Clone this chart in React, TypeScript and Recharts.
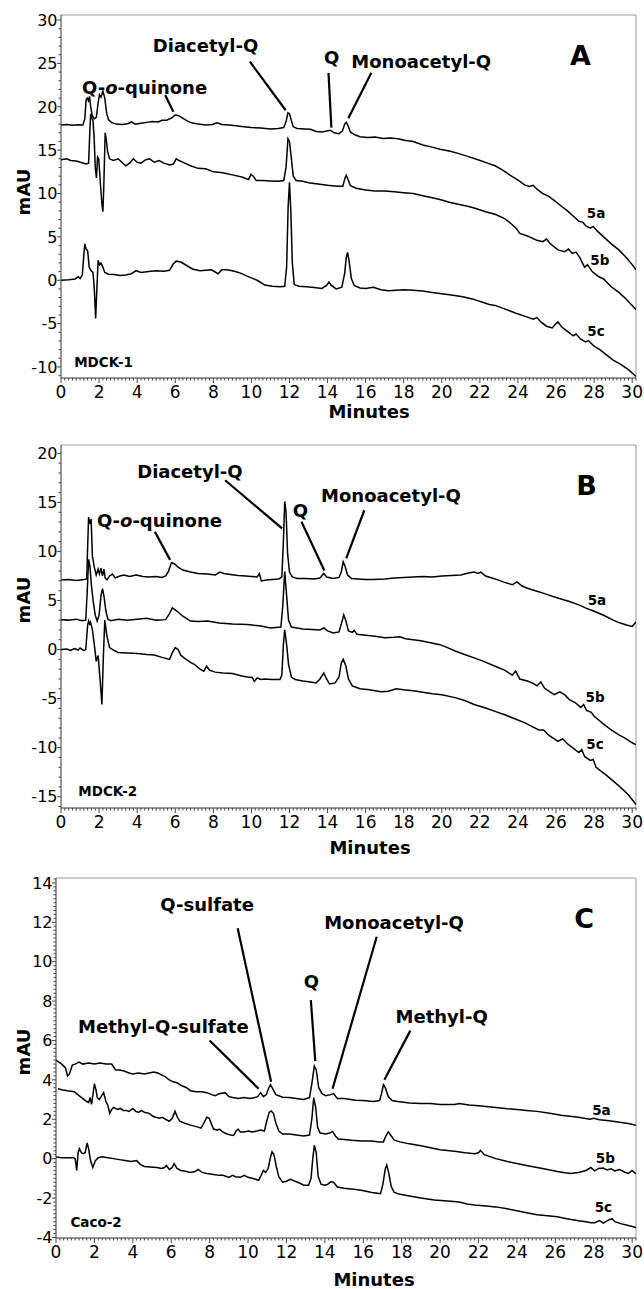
import React from 'react';
import { LineChart, Line, XAxis, YAxis, ReferenceLine, ReferenceDot } from 'recharts';

type Pt = [number, number];

// ---------------- axis ticks ----------------
const xMajorTicks = [0, 2, 4, 6, 8, 10, 12, 14, 16, 18, 20, 22, 24, 26, 28, 30];
const yMajorA = [-10, -5, 0, 5, 10, 15, 20, 25, 30];
const yMajorB = [-15, -10, -5, 0, 5, 10, 15, 20];
const yMajorC = [-4, -2, 0, 2, 4, 6, 8, 10, 12, 14];

// ---------------- Panel A (MDCK-1) ----------------
const a5a: Pt[] = [[0,17.9],[0.3,17.95],[0.6,17.88],[0.9,17.92],[1.15,17.9],[1.25,18.6],[1.32,20.8],[1.38,21.0],[1.44,20.7],[1.5,21.2],[1.56,20.0],[1.64,19.0],[1.75,18.6],[1.86,18.8],[1.94,20.3],[2.02,21.4],[2.1,21.1],[2.2,21.8],[2.3,21.0],[2.4,19.2],[2.5,18.5],[2.65,18.2],[2.9,18.0],[3.2,17.95],[3.5,18.05],[3.7,18.25],[3.9,18.0],[4.2,18.1],[4.5,18.2],[4.8,18.3],[5.1,18.25],[5.3,18.45],[5.55,18.45],[5.8,18.7],[6.0,19.05],[6.15,19.0],[6.35,18.75],[6.6,18.4],[6.85,18.15],[7.2,18.0],[7.6,17.9],[7.95,17.95],[8.2,18.15],[8.45,17.95],[8.8,17.9],[9.2,17.8],[9.6,17.7],[10.0,17.6],[10.5,17.55],[11.0,17.45],[11.4,17.5],[11.7,17.6],[11.82,18.3],[11.92,19.3],[12.0,19.2],[12.1,18.4],[12.2,17.7],[12.4,17.5],[12.8,17.45],[13.1,17.4],[13.4,17.15],[13.7,17.1],[13.95,17.2],[14.15,17.3],[14.35,17.0],[14.6,16.9],[14.78,17.2],[14.9,18.0],[14.98,18.2],[15.08,17.8],[15.2,17.1],[15.4,16.8],[15.7,16.55],[16.1,16.45],[16.5,16.5],[16.9,16.35],[17.3,16.4],[17.7,16.3],[18.1,16.1],[18.5,16.0],[19.0,15.6],[19.5,15.35],[19.9,15.1],[20.4,14.9],[20.9,14.6],[21.4,14.25],[21.9,13.9],[22.4,13.5],[22.8,13.2],[23.2,12.7],[23.6,12.1],[23.9,11.7],[24.1,11.4],[24.35,11.0],[24.6,10.8],[24.8,10.95],[25.0,10.5],[25.3,10.0],[25.6,9.7],[25.9,9.2],[26.3,8.5],[26.6,8.0],[26.9,7.4],[27.2,6.8],[27.4,6.7],[27.55,6.3],[27.8,6.0],[27.95,6.2],[28.2,5.6],[28.5,5.0],[28.9,4.2],[29.3,3.5],[29.7,2.6],[30.0,1.8],[30.2,1.2]];
const a5b: Pt[] = [[0,13.9],[0.3,14.0],[0.5,13.8],[0.8,13.75],[1.1,13.55],[1.3,13.4],[1.45,13.5],[1.52,17.5],[1.56,19.2],[1.62,18.7],[1.68,18.4],[1.74,16.5],[1.8,13.0],[1.86,11.8],[1.92,14.2],[1.98,14.0],[2.06,11.5],[2.14,9.0],[2.2,7.9],[2.25,11.0],[2.32,17.0],[2.38,16.2],[2.45,14.8],[2.55,14.0],[2.75,13.8],[3.0,14.0],[3.2,13.6],[3.4,13.2],[3.6,13.5],[3.8,14.0],[4.0,13.6],[4.2,13.5],[4.45,13.9],[4.65,14.0],[4.9,13.6],[5.15,13.8],[5.4,13.5],[5.7,13.3],[5.9,13.4],[6.05,14.0],[6.2,13.8],[6.5,13.5],[6.8,13.2],[7.2,12.9],[7.6,12.85],[8.0,12.5],[8.5,12.4],[9.0,12.15],[9.5,11.9],[9.85,11.6],[9.98,12.2],[10.1,12.0],[10.25,11.5],[10.6,11.5],[11.0,11.45],[11.4,11.4],[11.7,11.5],[11.82,13.0],[11.92,16.3],[12.0,16.0],[12.1,14.0],[12.2,12.0],[12.35,11.5],[12.7,11.4],[13.0,11.25],[13.5,11.1],[14.0,10.95],[14.5,10.85],[14.8,10.85],[14.92,11.8],[14.98,12.1],[15.08,11.6],[15.2,10.9],[15.5,10.6],[16.0,10.4],[16.5,10.3],[17.0,10.3],[17.5,10.2],[18.0,10.1],[18.5,10.0],[19.0,9.75],[19.5,9.5],[19.9,9.3],[20.4,9.0],[20.8,8.8],[21.3,8.55],[21.75,8.3],[22.3,7.9],[22.8,7.6],[23.3,7.1],[23.6,6.6],[23.9,6.0],[24.1,5.4],[24.5,5.1],[25.0,4.6],[25.3,4.45],[25.5,4.75],[25.7,4.2],[26.1,3.5],[26.45,3.3],[26.65,3.6],[26.85,3.1],[27.05,3.25],[27.25,2.6],[27.5,1.5],[27.65,1.8],[27.9,1.0],[28.25,0.4],[28.5,0.15],[28.9,-0.75],[29.3,-1.4],[29.6,-2.0],[30.0,-2.9],[30.2,-3.4]];
const a5c: Pt[] = [[0,0],[0.4,0.05],[0.75,0.15],[0.9,0.4],[1.0,0.2],[1.12,0.6],[1.2,3.0],[1.25,4.2],[1.32,3.6],[1.4,3.4],[1.48,1.5],[1.58,1.1],[1.68,0.9],[1.75,-1.0],[1.82,-4.4],[1.88,-1.2],[1.95,2.3],[2.02,1.8],[2.1,2.0],[2.18,1.6],[2.3,0.9],[2.5,0.7],[2.8,0.65],[3.1,0.55],[3.4,0.6],[3.7,0.75],[3.95,1.1],[4.2,0.9],[4.6,1.0],[5.0,1.1],[5.4,1.05],[5.7,1.15],[5.9,1.9],[6.05,2.2],[6.3,2.1],[6.6,1.7],[6.9,1.3],[7.3,1.1],[7.6,1.15],[7.9,1.2],[8.1,0.95],[8.25,0.75],[8.45,1.2],[8.7,1.2],[9.0,1.1],[9.4,0.85],[9.8,0.45],[10.3,0.0],[10.7,-0.55],[11.1,-0.7],[11.5,-0.75],[11.75,-0.7],[11.85,1.5],[11.93,8.5],[12.0,11.3],[12.07,8.0],[12.15,2.0],[12.25,-0.5],[12.5,-0.7],[12.9,-0.75],[13.3,-0.85],[13.7,-0.95],[13.95,-0.6],[14.07,-0.2],[14.2,-0.6],[14.45,-1.0],[14.75,-0.8],[14.9,0.8],[14.98,2.6],[15.05,3.2],[15.12,2.4],[15.25,0.2],[15.4,-0.6],[15.7,-0.9],[16.0,-0.95],[16.4,-0.8],[16.8,-1.1],[17.2,-1.2],[17.6,-1.15],[18.0,-1.1],[18.5,-1.15],[19.0,-1.25],[19.5,-1.4],[19.8,-1.5],[20.5,-1.7],[21.1,-1.9],[21.6,-2.15],[22.1,-2.5],[22.5,-2.8],[22.8,-2.9],[23.3,-3.3],[23.9,-3.8],[24.5,-4.25],[24.8,-4.5],[25.0,-4.3],[25.2,-4.8],[25.5,-5.3],[25.8,-5.5],[26.0,-5.0],[26.1,-4.8],[26.3,-5.4],[26.6,-5.9],[26.9,-6.4],[27.05,-6.2],[27.3,-6.8],[27.55,-7.1],[27.7,-6.95],[28.0,-7.6],[28.3,-8.0],[28.7,-8.7],[29.0,-9.2],[29.4,-9.7],[29.8,-10.3],[30.2,-11.1]];

// ---------------- Panel B (MDCK-2) ----------------
const b5a: Pt[] = [[0,7.1],[0.4,7.15],[0.8,7.05],[1.2,7.15],[1.35,7.2],[1.4,10.5],[1.45,13.5],[1.52,12.8],[1.58,13.3],[1.65,9.5],[1.75,8.4],[1.85,7.6],[1.95,8.2],[2.02,7.7],[2.1,8.3],[2.18,7.5],[2.25,8.2],[2.32,7.3],[2.42,7.1],[2.55,7.5],[2.7,7.7],[2.85,7.3],[3.1,7.5],[3.3,7.6],[3.6,7.45],[3.95,7.6],[4.3,7.45],[4.6,7.4],[5.0,7.45],[5.3,7.35],[5.5,7.5],[5.65,8.0],[5.8,8.85],[5.95,8.75],[6.15,8.4],[6.4,8.1],[6.8,7.9],[7.2,7.75],[7.7,7.7],[8.1,7.6],[8.35,7.9],[8.55,7.75],[8.9,7.65],[9.3,7.55],[9.7,7.5],[10.0,7.45],[10.3,7.4],[10.42,7.75],[10.52,7.0],[10.8,7.1],[11.1,7.15],[11.45,7.2],[11.6,7.4],[11.68,11.0],[11.75,15.1],[11.82,14.0],[11.9,9.8],[12.0,7.9],[12.15,7.4],[12.4,7.25],[12.8,7.25],[13.3,7.2],[13.6,7.3],[13.8,7.75],[13.95,7.4],[14.3,7.25],[14.6,7.35],[14.72,7.9],[14.82,8.95],[14.92,8.5],[15.05,7.6],[15.25,7.25],[15.6,7.2],[16.0,7.15],[16.4,7.15],[17.0,7.2],[17.5,7.3],[18.0,7.35],[18.5,7.4],[19.0,7.45],[19.5,7.4],[20.0,7.5],[20.5,7.55],[21.0,7.6],[21.4,7.8],[21.7,7.9],[21.9,7.75],[22.05,7.9],[22.3,7.5],[22.8,7.2],[23.3,6.85],[23.7,6.6],[23.95,6.9],[24.2,6.5],[24.5,6.25],[25.0,5.95],[25.4,5.7],[26.0,5.3],[26.7,4.9],[27.2,4.55],[27.6,4.2],[28.0,3.9],[28.5,3.5],[29.0,3.0],[29.3,2.75],[29.7,2.5],[30.0,2.35],[30.2,2.8]];
const b5b: Pt[] = [[0,3.05],[0.4,3.0],[0.8,3.1],[1.1,2.95],[1.3,3.0],[1.38,6.0],[1.45,9.2],[1.52,8.5],[1.6,6.5],[1.7,4.8],[1.8,3.5],[1.9,2.9],[2.0,3.5],[2.1,5.5],[2.18,6.2],[2.26,5.4],[2.36,3.9],[2.46,3.1],[2.6,2.95],[3.0,3.1],[3.5,3.0],[4.0,3.1],[4.5,3.2],[5.0,3.0],[5.5,3.05],[5.68,3.6],[5.85,4.25],[6.1,3.9],[6.4,3.4],[6.8,2.9],[7.2,2.85],[7.7,2.9],[8.3,2.7],[9.0,2.6],[9.8,2.55],[10.5,2.4],[11.0,2.2],[11.55,2.3],[11.65,4.5],[11.75,7.95],[11.85,5.5],[11.95,3.0],[12.1,2.3],[12.7,2.1],[13.2,2.05],[13.6,2.0],[13.8,2.2],[14.0,1.9],[14.3,1.7],[14.6,1.8],[14.75,2.8],[14.85,3.55],[14.95,3.0],[15.1,1.9],[15.3,1.75],[15.4,1.95],[15.55,1.55],[16.0,1.45],[16.5,1.35],[17.0,1.2],[17.5,1.25],[17.8,1.3],[18.1,1.1],[18.5,1.0],[18.9,0.9],[19.4,0.7],[19.9,0.5],[20.3,0.2],[20.7,-0.15],[21.2,-0.5],[21.7,-0.85],[22.2,-1.2],[22.8,-1.7],[23.3,-2.1],[23.7,-2.6],[23.88,-2.2],[24.1,-3.0],[24.5,-3.2],[24.8,-3.45],[25.0,-3.7],[25.2,-3.3],[25.4,-3.95],[25.9,-4.6],[26.2,-4.3],[26.45,-4.6],[26.7,-5.1],[27.0,-5.4],[27.3,-5.9],[27.45,-5.6],[27.6,-6.2],[27.85,-6.4],[28.0,-6.8],[28.5,-7.6],[28.9,-8.2],[29.3,-8.7],[29.6,-9.0],[30.0,-9.5],[30.2,-9.7]];
const b5c: Pt[] = [[0,0],[0.3,0.05],[0.5,-0.1],[0.7,0.1],[0.9,-0.05],[1.0,0.15],[1.2,-0.1],[1.3,0.0],[1.4,2.5],[1.45,2.9],[1.5,2.6],[1.55,2.8],[1.65,2.0],[1.75,0.5],[1.85,-1.2],[1.95,-0.6],[2.05,-3.0],[2.15,-5.6],[2.22,-1.0],[2.3,3.0],[2.4,1.5],[2.55,0.2],[2.8,-0.1],[3.0,-0.3],[3.5,-0.35],[4.0,-0.4],[4.5,-0.5],[4.9,-0.55],[5.3,-0.8],[5.7,-1.0],[5.85,-0.3],[6.0,0.2],[6.15,0.0],[6.3,-0.6],[6.5,-0.9],[6.8,-1.3],[7.0,-1.5],[7.3,-2.0],[7.5,-2.2],[7.65,-1.7],[7.8,-2.1],[8.1,-2.3],[8.5,-2.4],[9.0,-2.45],[9.5,-2.7],[9.8,-2.8],[10.05,-2.85],[10.15,-3.25],[10.3,-2.9],[10.5,-3.05],[10.7,-3.0],[11.1,-3.05],[11.5,-3.05],[11.6,-2.6],[11.68,0.5],[11.75,2.0],[11.85,0.5],[11.95,-1.5],[12.1,-2.8],[12.3,-3.05],[12.7,-3.2],[13.1,-3.3],[13.4,-3.4],[13.6,-3.0],[13.8,-2.4],[13.95,-3.0],[14.1,-3.5],[14.4,-3.4],[14.6,-2.8],[14.72,-1.4],[14.82,-1.0],[14.95,-1.6],[15.1,-3.0],[15.3,-3.7],[15.7,-4.0],[16.2,-4.1],[16.8,-4.3],[17.2,-4.25],[17.6,-4.0],[18.0,-4.1],[18.5,-4.2],[19.0,-4.35],[19.5,-4.5],[20.0,-4.6],[20.7,-4.9],[21.2,-5.2],[21.7,-5.6],[22.3,-5.95],[22.8,-6.3],[23.3,-6.65],[23.9,-7.1],[24.4,-7.5],[24.8,-7.9],[25.1,-8.2],[25.35,-8.2],[25.6,-8.7],[26.1,-9.35],[26.35,-9.1],[26.6,-9.6],[27.0,-10.2],[27.2,-10.5],[27.35,-10.2],[27.5,-10.9],[27.8,-11.3],[27.95,-11.2],[28.1,-12.0],[28.7,-12.9],[29.3,-13.9],[29.8,-14.8],[30.2,-15.8]];

// ---------------- Panel C (Caco-2) ----------------
const c5a: Pt[] = [[0,5.0],[0.15,4.9],[0.3,4.8],[0.5,4.6],[0.6,4.2],[0.7,4.3],[0.85,4.75],[1.0,4.8],[1.2,4.9],[1.4,4.8],[1.7,4.85],[2.0,4.8],[2.3,4.85],[2.6,4.8],[2.9,4.8],[3.1,4.5],[3.3,4.5],[3.55,4.45],[3.8,4.35],[4.0,4.3],[4.3,4.35],[4.6,4.3],[4.85,4.35],[5.1,4.4],[5.3,4.35],[5.5,4.25],[5.7,4.15],[5.9,4.0],[6.1,3.9],[6.3,3.85],[6.55,3.7],[6.8,3.6],[7.0,3.45],[7.3,3.4],[7.6,3.4],[7.85,3.35],[8.1,3.25],[8.3,3.2],[8.5,3.3],[8.8,3.35],[9.0,3.15],[9.2,3.1],[9.5,3.05],[9.8,3.1],[10.1,3.05],[10.35,3.1],[10.5,3.15],[10.65,3.35],[10.8,3.15],[10.95,3.25],[11.08,3.6],[11.17,3.75],[11.28,3.55],[11.45,3.25],[11.8,3.12],[12.15,3.1],[12.5,3.05],[12.9,3.0],[13.2,3.1],[13.32,3.8],[13.45,4.7],[13.55,4.5],[13.68,3.6],[13.85,3.3],[14.05,3.2],[14.3,3.25],[14.45,3.3],[14.65,3.05],[15.0,3.05],[15.6,2.97],[16.0,2.95],[16.5,2.9],[16.85,2.95],[16.95,3.3],[17.05,3.75],[17.15,3.6],[17.3,3.15],[17.5,2.95],[17.8,2.9],[18.4,2.82],[19.0,2.8],[19.5,2.8],[20.0,2.75],[20.75,2.75],[21.0,2.8],[21.5,2.72],[22.0,2.68],[22.9,2.6],[23.5,2.53],[24.0,2.5],[24.5,2.45],[25.05,2.4],[25.7,2.3],[26.3,2.2],[27.2,2.1],[27.8,2.0],[28.0,2.05],[28.3,1.98],[28.8,1.92],[29.35,1.85],[29.8,1.78],[30.2,1.7]];
const c5b: Pt[] = [[0.1,3.55],[0.3,3.5],[0.6,3.45],[0.95,3.4],[1.2,3.2],[1.4,3.05],[1.6,2.9],[1.7,2.85],[1.78,3.1],[1.85,2.75],[1.93,3.3],[2.0,3.8],[2.08,3.5],[2.15,3.1],[2.25,3.0],[2.38,3.2],[2.48,3.35],[2.6,2.9],[2.7,2.7],[2.8,2.3],[2.9,2.5],[3.0,2.6],[3.2,2.5],[3.35,2.55],[3.5,2.45],[3.65,2.45],[3.8,2.4],[4.0,2.55],[4.15,2.4],[4.3,2.35],[4.45,2.45],[4.6,2.35],[4.85,2.3],[5.05,2.15],[5.2,2.1],[5.4,2.05],[5.55,2.1],[5.7,2.0],[5.9,1.9],[6.05,2.05],[6.2,2.4],[6.32,2.1],[6.45,1.9],[6.7,1.8],[7.0,1.7],[7.2,1.65],[7.4,1.6],[7.55,1.55],[7.7,1.8],[7.85,2.1],[7.98,2.05],[8.1,1.75],[8.2,1.5],[8.4,1.45],[8.5,1.5],[8.7,1.35],[8.9,1.25],[9.1,1.2],[9.25,1.18],[9.38,1.4],[9.48,1.5],[9.6,1.35],[9.8,1.35],[10.0,1.4],[10.2,1.35],[10.45,1.4],[10.65,1.45],[10.85,1.4],[10.97,1.9],[11.1,2.35],[11.2,2.42],[11.32,2.3],[11.45,1.8],[11.6,1.4],[11.8,1.25],[12.15,1.25],[12.5,1.2],[12.9,1.15],[13.2,1.2],[13.32,2.0],[13.42,3.1],[13.52,2.6],[13.62,1.6],[13.75,1.3],[14.05,1.25],[14.25,1.3],[14.4,1.38],[14.55,1.15],[14.7,1.0],[15.0,0.97],[15.4,0.93],[15.9,0.9],[16.45,0.9],[16.8,0.85],[17.05,0.85],[17.15,1.1],[17.3,1.36],[17.42,1.2],[17.6,0.95],[17.9,0.85],[18.4,0.75],[19.0,0.65],[19.5,0.55],[20.0,0.45],[20.75,0.38],[21.3,0.3],[21.8,0.25],[22.0,0.3],[22.1,0.42],[22.3,0.2],[22.9,0.0],[23.5,-0.15],[24.0,-0.25],[24.5,-0.35],[25.05,-0.45],[25.6,-0.55],[26.1,-0.65],[26.5,-0.72],[26.8,-0.76],[27.2,-0.7],[27.6,-0.6],[27.85,-0.45],[28.05,-0.62],[28.25,-0.5],[28.5,-0.48],[28.7,-0.58],[28.9,-0.52],[29.1,-0.62],[29.35,-0.55],[29.6,-0.68],[29.8,-0.75],[30.0,-0.6],[30.2,-0.78]];
const c5c: Pt[] = [[0,0.08],[0.3,0.05],[0.6,0.05],[0.9,0.05],[1.0,0.0],[1.08,-0.6],[1.15,0.3],[1.22,0.5],[1.32,0.3],[1.42,0.25],[1.52,0.3],[1.62,0.8],[1.7,0.5],[1.8,-0.1],[1.92,-0.45],[2.05,-0.1],[2.2,0.05],[2.4,0.1],[2.7,0.05],[3.0,0.0],[3.3,-0.05],[3.6,-0.1],[3.9,-0.15],[4.2,-0.1],[4.4,-0.3],[4.6,-0.4],[4.9,-0.42],[5.25,-0.45],[5.5,-0.5],[5.65,-0.45],[5.75,-0.35],[5.9,-0.55],[6.05,-0.45],[6.15,-0.25],[6.3,-0.5],[6.5,-0.6],[6.8,-0.65],[7.0,-0.7],[7.25,-0.65],[7.4,-0.55],[7.6,-0.7],[7.85,-0.75],[8.2,-0.8],[8.5,-0.85],[8.7,-0.85],[9.0,-0.95],[9.2,-0.85],[9.35,-0.92],[9.6,-0.95],[9.8,-0.85],[10.0,-0.95],[10.2,-1.0],[10.4,-1.05],[10.55,-1.1],[10.68,-0.85],[10.8,-0.6],[10.92,-0.7],[11.05,-0.5],[11.15,0.0],[11.25,0.35],[11.35,0.2],[11.47,-0.4],[11.6,-0.92],[11.8,-1.2],[12.0,-1.15],[12.2,-1.05],[12.45,-1.15],[12.7,-1.25],[12.9,-1.35],[13.15,-1.35],[13.28,-1.0],[13.37,0.0],[13.45,0.68],[13.55,0.3],[13.65,-0.9],[13.8,-1.3],[14.0,-1.35],[14.15,-1.3],[14.3,-1.18],[14.45,-1.2],[14.65,-1.44],[15.0,-1.5],[15.5,-1.55],[15.9,-1.6],[16.45,-1.72],[16.9,-1.78],[17.02,-1.3],[17.15,-0.5],[17.22,-0.32],[17.32,-0.7],[17.45,-1.4],[17.6,-1.7],[17.85,-1.8],[18.4,-1.9],[19.0,-2.0],[19.7,-2.1],[20.4,-2.15],[21.0,-2.2],[21.4,-2.3],[21.8,-2.35],[22.4,-2.4],[22.9,-2.45],[23.5,-2.55],[24.0,-2.65],[24.5,-2.75],[25.05,-2.85],[25.6,-2.9],[26.1,-2.95],[26.6,-3.05],[27.2,-3.15],[27.6,-3.2],[27.85,-3.25],[28.05,-3.25],[28.3,-3.15],[28.5,-3.28],[28.8,-3.1],[28.95,-3.05],[29.1,-3.2],[29.4,-3.3],[29.8,-3.4],[30.2,-3.5]];

// ---------------- annotations (anchor points in data units) ----------------
type Lab = { text: string; t: number; v: number };
type Seg = [number, number, number, number];

const peakLabelsA: Lab[] = [
  { text: 'Diacetyl-Q', t: 7.59, v: 27.1 },
  { text: 'Q', t: 14.22, v: 25.7 },
  { text: 'Monoacetyl-Q', t: 18.92, v: 25.2 },
  { text: 'Q-o-quinone', t: 4.39, v: 22.24 },
];
const leadersA: Seg[] = [[9.92, 25.2, 11.8, 19.6], [14.05, 23.9, 14.2, 17.6], [16.3, 23.93, 15.09, 18.67], [5.47, 21.35, 5.9, 19.43]];
const traceLabelsA: Lab[] = [{ text: '5a', t: 28.1, v: 7.75 }, { text: '5b', t: 28.3, v: 2.33 }, { text: '5c', t: 28.1, v: -5.9 }];

const peakLabelsB: Lab[] = [
  { text: 'Diacetyl-Q', t: 6.77, v: 18.1 },
  { text: 'Q', t: 12.57, v: 14.2 },
  { text: 'Monoacetyl-Q', t: 17.33, v: 15.74 },
  { text: 'Q-o-quinone', t: 5.17, v: 13.2 },
];
const leadersB: Seg[] = [[8.62, 17.26, 11.61, 12.35], [12.63, 13.03, 13.83, 8.05], [15.93, 14.2, 14.98, 9.3], [4.93, 12.0, 5.73, 9.14]];
const traceLabelsB: Lab[] = [{ text: '5a', t: 28.15, v: 5.08 }, { text: '5b', t: 28.05, v: -4.9 }, { text: '5c', t: 28.05, v: -9.64 }];

const peakLabelsC: Lab[] = [
  { text: 'Q-sulfate', t: 7.87, v: 12.9 },
  { text: 'Monoacetyl-Q', t: 17.6, v: 12.0 },
  { text: 'Q', t: 13.3, v: 9.0 },
  { text: 'Methyl-Q', t: 20.08, v: 7.2 },
  { text: 'Methyl-Q-sulfate', t: 5.59, v: 6.7 },
];
const leadersC: Seg[] = [[9.46, 11.7, 11.2, 3.9], [16.7, 11.27, 14.4, 3.55], [13.27, 8.05, 13.5, 4.95], [18.45, 6.5, 17.1, 4.0], [8.0, 6.0, 10.55, 3.55]];
const traceLabelsC: Lab[] = [{ text: '5a', t: 28.4, v: 2.45 }, { text: '5b', t: 28.6, v: 0 }, { text: '5c', t: 28.5, v: -2.45 }];

// ---------------- helpers ----------------
const FONT = '"DejaVu Sans", Verdana, sans-serif';
const X_MAX = 30.2;

const steps = (start: number, end: number, step: number) => {
  const out: number[] = [];
  for (let i = 0; start + i * step <= end + 1e-9; i++) out.push(Math.round((start + i * step) * 1000) / 1000);
  return out;
};
const isMult = (v: number, m: number) => Math.abs(v / m - Math.round(v / m)) < 1e-6;
const toData = (pts: Pt[]) => pts.map(([t, v]) => ({ t, v }));

const renderText = (text: string) => {
  if (text.includes('-o-')) {
    const [a, b] = text.split('-o-');
    return (
      <>
        {a + '-'}
        <tspan fontStyle="italic">o</tspan>
        {'-' + b}
      </>
    );
  }
  return text;
};

const XTick = (props: any) => {
  const { x, y, payload } = props;
  const v = payload.value;
  const major = isMult(v, 2);
  return (
    <g>
      <line x1={x} x2={x} y1={y} y2={y + (major ? 5 : 2.5)} stroke="#444" strokeWidth={1} />
      {major && (
        <text x={x} y={y + 20} textAnchor="middle" fontSize={17} fontFamily={FONT} fill="#000">
          {v}
        </text>
      )}
    </g>
  );
};

const makeYTick = (majorStep: number) => (props: any) => {
  const { x, y, payload } = props;
  const v = payload.value;
  const major = isMult(v, majorStep);
  return (
    <g>
      <line x1={x - (major ? 4 : 2.5)} x2={x} y1={y} y2={y} stroke="#444" strokeWidth={1} />
      {major && (
        <text x={x - 3.5} y={y} dy="0.36em" textAnchor="end" fontSize={16} fontFamily={FONT} fill="#000">
          {v}
        </text>
      )}
    </g>
  );
};

type PanelCfg = {
  top: number;
  height: number;
  marginTop: number;
  yWidth: number;
  xHeight: number;
  yDomain: [number, number];
  yMinorStep: number;
  yMajorStep: number;
  traces: Pt[][];
  peakLabels: Lab[];
  leaders: Seg[];
  traceLabels: Lab[];
  letter: Lab;
  cell: Lab;
  mauY: number;
  minutesX: number;
  minutesY: number;
};

const panels: PanelCfg[] = [
  {
    top: 0, height: 430, marginTop: 15, yWidth: 61, xHeight: 52,
    yDomain: [-11.27, 30.58], yMinorStep: 1, yMajorStep: 5,
    traces: [a5a, a5b, a5c], peakLabels: peakLabelsA, leaders: leadersA, traceLabels: traceLabelsA,
    letter: { text: 'A', t: 27.28, v: 25.97 }, cell: { text: 'MDCK-1', t: 0.69, v: -9.4 },
    mauY: 192, minutesX: 369, minutesY: 412,
  },
  {
    top: 430, height: 430, marginTop: 15, yWidth: 61, xHeight: 52,
    yDomain: [-16.15, 20.85], yMinorStep: 1, yMajorStep: 5,
    traces: [b5a, b5b, b5c], peakLabels: peakLabelsB, leaders: leadersB, traceLabels: traceLabelsB,
    letter: { text: 'B', t: 27.6, v: 16.75 }, cell: { text: 'MDCK-2', t: 0.91, v: -14.4 },
    mauY: 170, minutesX: 370, minutesY: 418,
  },
  {
    top: 860, height: 429, marginTop: 18, yWidth: 56, xHeight: 51,
    yDomain: [-4.03, 14.25], yMinorStep: 0.2, yMajorStep: 2,
    traces: [c5a, c5b, c5c], peakLabels: peakLabelsC, leaders: leadersC, traceLabels: traceLabelsC,
    letter: { text: 'C', t: 27.5, v: 12.2 }, cell: { text: 'Caco-2', t: 0.75, v: -3.22 },
    mauY: 192, minutesX: 374, minutesY: 420,
  },
];

const textDot = (key: string, lab: Lab, size: number, anchor: 'start' | 'middle', weight: string) => (
  <ReferenceDot
    key={key}
    x={lab.t}
    y={lab.v}
    r={0}
    ifOverflow="visible"
    shape={(p: any) => (
      <text
        x={p.cx}
        y={p.cy}
        dy="0.36em"
        textAnchor={anchor}
        fontSize={size}
        fontWeight={weight}
        fontFamily={FONT}
        fill="#000"
      >
        {renderText(lab.text)}
      </text>
    )}
  />
);

function Panel({ cfg, idx }: { cfg: PanelCfg; idx: number }) {
  const xTicks = steps(0, X_MAX, 0.2);
  const yStart = Math.ceil(cfg.yDomain[0] / cfg.yMinorStep) * cfg.yMinorStep;
  const yTicks = steps(yStart, cfg.yDomain[1], cfg.yMinorStep);
  const YTick = makeYTick(cfg.yMajorStep);
  return (
    <div style={{ position: 'absolute', left: 0, top: cfg.top, width: 644, height: cfg.height }}>
      <LineChart width={644} height={cfg.height} margin={{ top: cfg.marginTop, right: 8, bottom: 0, left: 0 }}>
        <XAxis
          type="number"
          dataKey="t"
          domain={[0, X_MAX]}
          allowDataOverflow
          ticks={xTicks}
          interval={0}
          tickSize={0}
          tickMargin={0}
          tickLine={false}
          axisLine={{ stroke: '#333', strokeWidth: 1 }}
          tick={(p: any) => <XTick {...p} />}
          height={cfg.xHeight}
          label={{
            content: () => (
              <text x={cfg.minutesX} y={cfg.minutesY} dy="0.36em" textAnchor="middle" fontSize={18} fontWeight="bold" fontFamily={FONT} fill="#000">
                Minutes
              </text>
            ),
          }}
        />
        <YAxis
          type="number"
          dataKey="v"
          domain={cfg.yDomain}
          allowDataOverflow
          ticks={yTicks}
          interval={0}
          tickSize={0}
          tickMargin={0}
          tickLine={false}
          axisLine={{ stroke: '#333', strokeWidth: 1 }}
          tick={(p: any) => <YTick {...p} />}
          width={cfg.yWidth}
          label={{
            content: () => (
              <text transform={`translate(24, ${cfg.mauY}) rotate(-90)`} dy="0.36em" textAnchor="middle" fontSize={18} fontWeight="bold" fontFamily={FONT} fill="#000">
                mAU
              </text>
            ),
          }}
        />
        <ReferenceLine y={cfg.yDomain[1]} stroke="#999" strokeWidth={1} ifOverflow="visible" />
        <ReferenceLine x={X_MAX} stroke="#999" strokeWidth={1} ifOverflow="visible" />
        {cfg.traces.map((tr, i) => (
          <Line
            key={`tr${idx}-${i}`}
            data={toData(tr)}
            dataKey="v"
            type="linear"
            stroke="#000"
            strokeWidth={1.5}
            dot={false}
            activeDot={false}
            isAnimationActive={false}
          />
        ))}
        {cfg.leaders.map((s, i) => (
          <ReferenceLine
            key={`ld${idx}-${i}`}
            segment={[{ x: s[0], y: s[1] }, { x: s[2], y: s[3] }]}
            stroke="#000"
            strokeWidth={2.2}
            ifOverflow="visible"
          />
        ))}
        {cfg.peakLabels.map((l, i) => textDot(`pl${idx}-${i}`, l, 18, 'middle', 'bold'))}
        {cfg.traceLabels.map((l, i) => textDot(`tl${idx}-${i}`, l, 13.5, 'middle', 'bold'))}
        {textDot(`let${idx}`, cfg.letter, 27, 'middle', 'bold')}
        {textDot(`cell${idx}`, cfg.cell, 13.5, 'start', 'bold')}
      </LineChart>
    </div>
  );
}

export default function App() {
  return (
    <div style={{ position: 'absolute', left: 0, top: 0, width: 644, height: 1289, background: '#fff' }}>
      {panels.map((cfg, i) => (
        <Panel key={i} cfg={cfg} idx={i} />
      ))}
    </div>
  );
}
